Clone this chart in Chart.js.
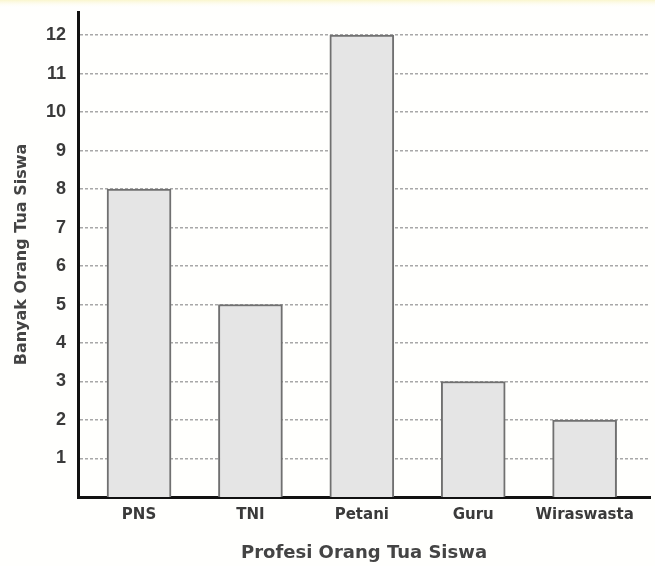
<!DOCTYPE html>
<html>
<head>
<meta charset="utf-8">
<script src="https://cdn.jsdelivr.net/npm/chart.js@4"></script>
<style>
  html, body { margin: 0; padding: 0; background: #fffffd; }
  #wrap { width: 655px; height: 566px; }
</style>
</head>
<body>
<div id="wrap"><canvas id="myChart" width="655" height="566"></canvas></div>
<script>
// data
const professions = ['PNS', 'TNI', 'Petani', 'Guru', 'Wiraswasta'];
const parentCounts = [8, 5, 12, 3, 2];
const yTicks = [1, 2, 3, 4, 5, 6, 7, 8, 9, 10, 11, 12];

const ctx = document.getElementById('myChart').getContext('2d');

// faint yellow band on the top edge, like the scan
const paper = {
  id: 'paper',
  beforeDraw(chart) {
    const c = chart.ctx;
    c.save();
    c.fillStyle = '#fffffd';
    c.fillRect(0, 0, chart.width, chart.height);
    let g = c.createLinearGradient(0, 0, 0, 8);
    g.addColorStop(0, 'rgba(250, 246, 205, 1)');
    g.addColorStop(1, 'rgba(255, 255, 253, 0)');
    c.fillStyle = g;
    c.fillRect(0, 0, chart.width, 8);
    c.restore();
  }
};

const myChart = new Chart(ctx, {
  type: 'bar',
  data: {
    datasets: [{
      data: parentCounts.map((v, i) => ({x: i, y: v})),
      backgroundColor: '#e5e5e5',
      borderColor: '#707070',
      borderWidth: 2,
      borderSkipped: 'bottom',
      barThickness: 64
    }]
  },
  plugins: [paper],
  options: {
    responsive: false,
    animation: false,
    layout: { padding: { top: 12, right: 5, left: 0, bottom: 0 } },
    plugins: {
      legend: { display: false },
      tooltip: { enabled: false }
    },
    scales: {
      x: {
        type: 'linear',
        min: -0.548,
        max: 4.587,
        offset: false,
        afterBuildTicks(scale) {
          scale.ticks = professions.map((p, i) => ({value: i}));
        },
        afterFit(scale) {
          scale.height = 69;
          scale.paddingLeft = 0;
          scale.paddingRight = 0;
        },
        ticks: {
          callback: (v) => professions[v],
          color: '#3a3a3a',
          padding: 9,
          font: { family: 'DejaVu Sans', size: 15, weight: 'bold' }
        },
        grid: { display: false, drawTicks: false },
        border: { display: true, color: '#111', width: 3 },
        title: {
          display: true,
          text: 'Profesi Orang Tua Siswa',
          color: '#444',
          padding: { top: 0, bottom: 2 },
          font: { family: 'DejaVu Sans', size: 18, weight: 'bold' }
        }
      },
      y: {
        min: 0,
        max: 12.6,
        afterBuildTicks(scale) {
          scale.ticks = yTicks.map(v => ({value: v}));
        },
        afterFit(scale) {
          scale.width = 78;
          scale.paddingTop = 0;
          scale.paddingBottom = 0;
        },
        ticks: {
          color: '#3a3a3a',
          padding: 12,
          font: { family: 'Liberation Sans', size: 18, weight: 'bold' }
        },
        grid: {
          color: '#a8a8a8',
          lineWidth: 1.5,
          drawTicks: false
        },
        border: { display: true, color: '#111', width: 3, dash: [3, 2] },
        title: {
          display: true,
          text: 'Banyak Orang Tua Siswa',
          color: '#444',
          padding: { top: 12, bottom: 0 },
          font: { family: 'DejaVu Sans', size: 16, weight: 'bold' }
        }
      }
    }
  }
});
</script>
</body>
</html>
